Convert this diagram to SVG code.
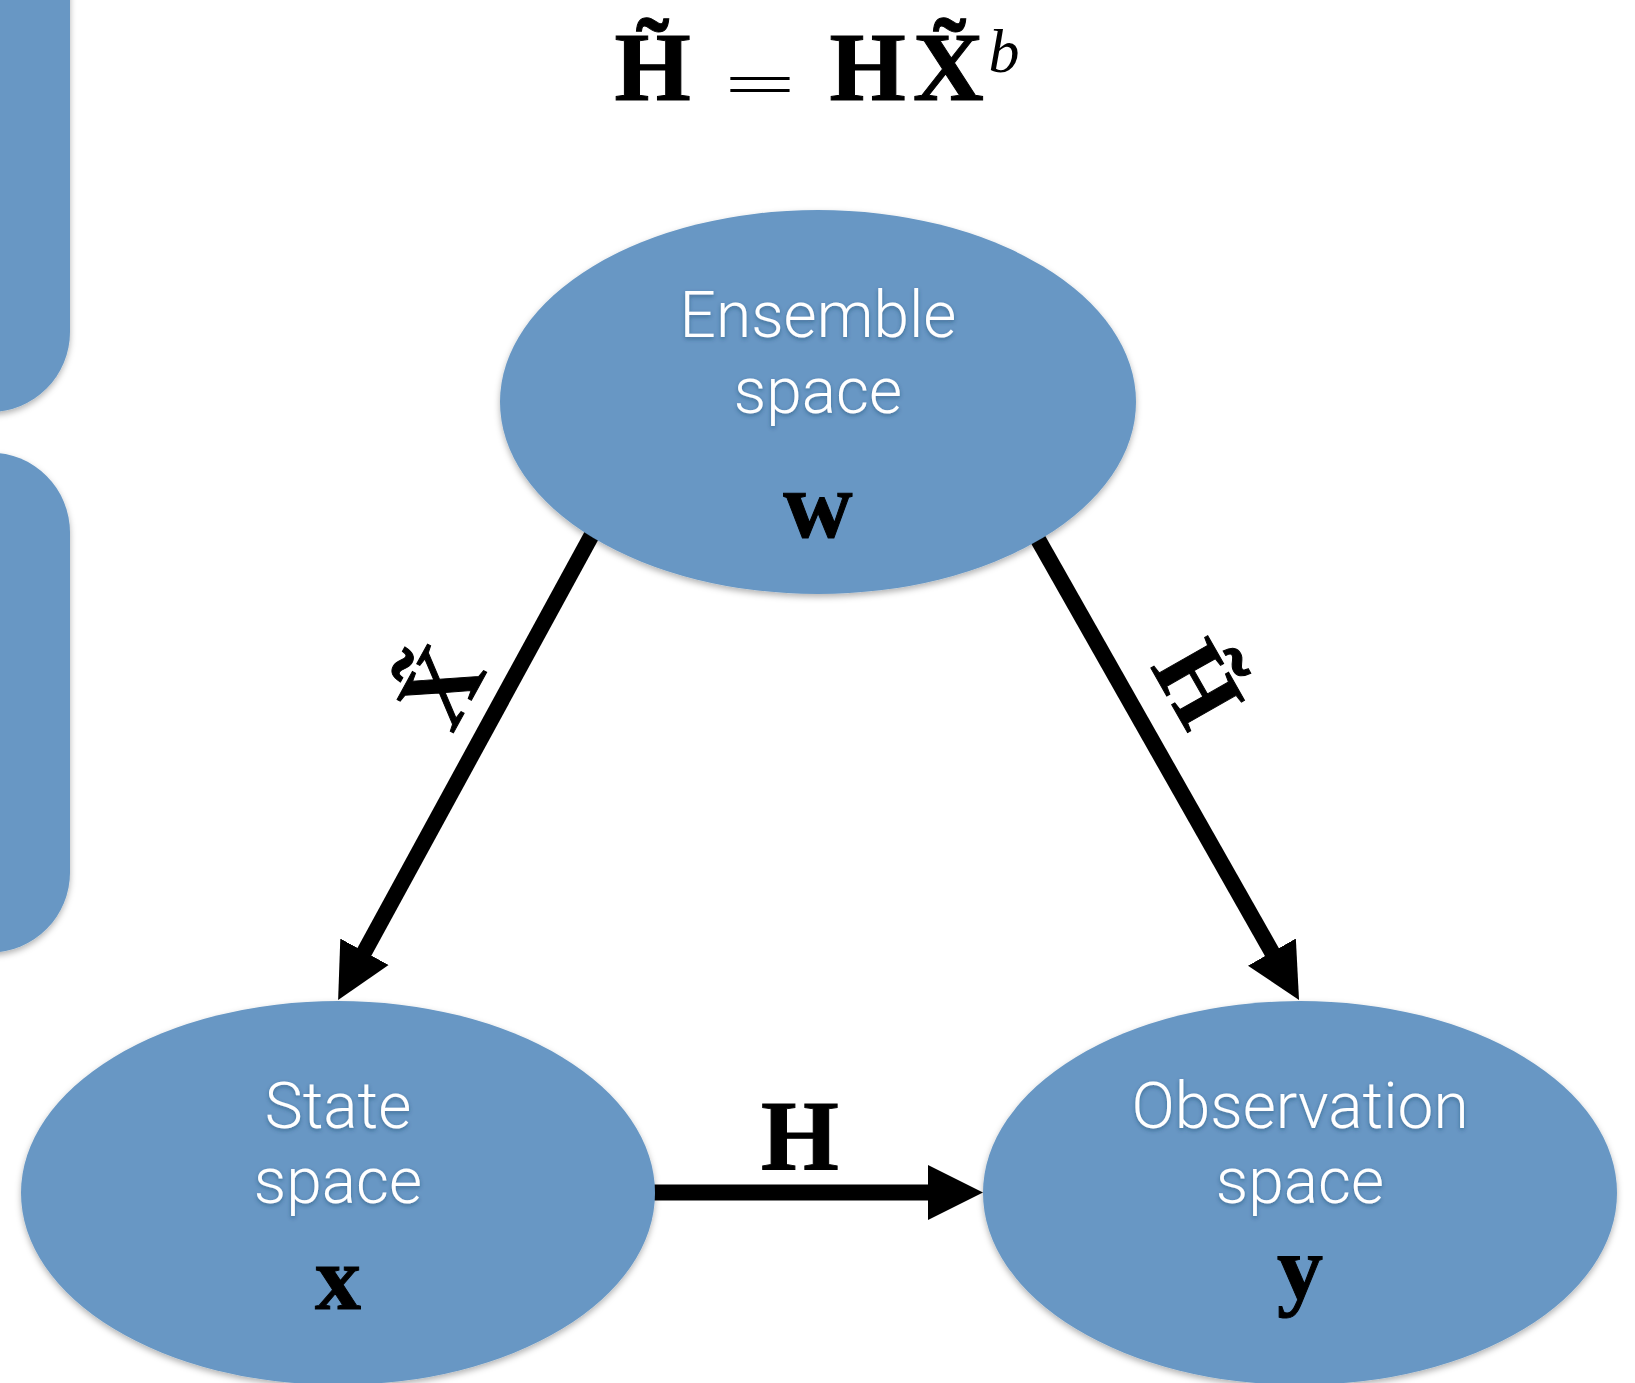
<svg xmlns="http://www.w3.org/2000/svg" width="1635" height="1383" viewBox="0 0 1635 1383">
  <style>
    .node { fill: #6797c4; filter: url(#shadow); }
    .side { fill: #6797c4; filter: url(#shadow); }
    .lbl { font-family: Roboto, "Liberation Sans", Arial, sans-serif; font-weight: 300; font-size: 64px; fill: #ffffff; text-anchor: middle; filter: url(#tshadow); }
    .math { font-family: "Liberation Serif", "Times New Roman", serif; font-weight: bold; fill: #000000; stroke: #000000; stroke-width: 1; text-anchor: middle; }
    .plain { font-family: "Liberation Serif", "Times New Roman", serif; fill: #000000; text-anchor: middle; }
    .edge { stroke: #000000; stroke-width: 16; fill: none; }
  </style>
  <defs>
    <filter id="shadow" x="-10%" y="-10%" width="120%" height="125%">
      <feDropShadow dx="0" dy="3" stdDeviation="3" flood-color="#000000" flood-opacity="0.3"/>
    </filter>
    <filter id="tshadow" x="-10%" y="-20%" width="120%" height="150%">
      <feDropShadow dx="0" dy="2" stdDeviation="2" flood-color="#1a3a5a" flood-opacity="0.45"/>
    </filter>
    <marker id="arrow" markerUnits="userSpaceOnUse" viewBox="0 -30 60 60" refX="2" refY="0" markerWidth="60" markerHeight="60" orient="auto">
      <path d="M0,-27.5 L55,0 L0,27.5 z" fill="#000000"/>
    </marker>
  </defs>
  <rect width="1635" height="1383" fill="#ffffff"/>

  <!-- left side panels -->
  <g id="panel-top">
    <rect class="side" x="-90" y="-200" width="160" height="612" rx="80" ry="80"/>
  </g>
  <g id="panel-bottom">
    <rect class="side" x="-90" y="452.5" width="160" height="500" rx="80" ry="80"/>
  </g>

  <!-- title equation -->
  <g id="title">
    <text class="math" x="652.5" y="100" font-size="98">H&#x303;</text>
    <text class="plain" transform="translate(760,104) scale(1.3,0.6)" x="0" y="0" font-size="98">=</text>
    <text class="math" x="867.5" y="100" font-size="98">H</text>
    <text class="math" x="948.5" y="100" font-size="98">X&#x303;</text>
    <text class="plain" x="1004" y="72" font-size="62" font-style="italic">b</text>
  </g>

  <!-- connectors -->
  <g id="connectors">
    <line class="edge" x1="600" y1="520" x2="363.5" y2="953.5" marker-end="url(#arrow)"/>
    <line class="edge" x1="1027" y1="520" x2="1272.9" y2="953.9" marker-end="url(#arrow)"/>
    <line class="edge" x1="640" y1="1192.5" x2="930" y2="1192.5" marker-end="url(#arrow)"/>
    <text class="math" transform="translate(441,687) rotate(-61.2)" x="0" y="33" font-size="100">X&#x303;</text>
    <text class="math" transform="translate(1198,684) rotate(60.4)" x="0" y="33" font-size="100">H&#x303;</text>
    <text class="math" x="800" y="1169" font-size="100">H</text>
  </g>

  <!-- nodes -->
  <g id="ensemble">
    <ellipse class="node" cx="818" cy="402" rx="318" ry="192"/>
    <text class="lbl" x="818" y="337">Ensemble</text>
    <text class="lbl" x="818" y="413">space</text>
    <text class="math" x="818" y="537" font-size="96">w</text>
  </g>
  <g id="state">
    <ellipse class="node" cx="338" cy="1193" rx="317" ry="192"/>
    <text class="lbl" x="338" y="1128">State</text>
    <text class="lbl" x="338" y="1203">space</text>
    <text class="math" x="338" y="1309" font-size="92">x</text>
  </g>
  <g id="observation">
    <ellipse class="node" cx="1300" cy="1193" rx="317" ry="192"/>
    <text class="lbl" x="1300" y="1128">Observation</text>
    <text class="lbl" x="1300" y="1203">space</text>
    <text class="math" x="1300" y="1299" font-size="92">y</text>
  </g>
</svg>
